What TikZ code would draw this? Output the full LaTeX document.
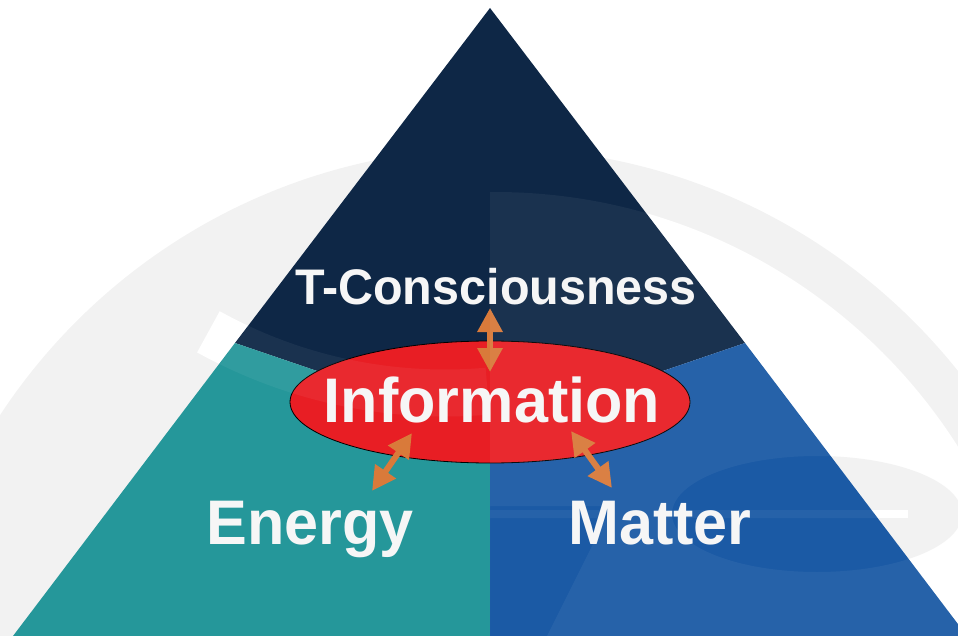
\documentclass[tikz,border=0pt]{standalone}
\usepackage{fontspec}
\setmainfont{Liberation Sans}
\newfontfamily\labfont[FakeStretch=0.97]{Liberation Sans}
\usepackage{tikz}
\usetikzlibrary{arrows.meta,shapes.geometric}
\definecolor{topnavy}{HTML}{0E2746}
\definecolor{leftteal}{HTML}{25979A}
\definecolor{rightblue}{HTML}{1B5AA5}
\definecolor{infored}{HTML}{E81E24}
\definecolor{arroworange}{HTML}{D97A3A}
\definecolor{wmgrey}{HTML}{F2F2F2}
\definecolor{labwhite}{HTML}{F6F6F6}
\tikzset{
  wm/.style={fill=wmgrey},
  tint/.style={fill=white, fill opacity=0.05},
  infobox/.style={ellipse, draw=black, line width=0.8pt, fill=infored,
    minimum width=400pt, minimum height=122pt, inner sep=0pt},
  link/.style={draw=arroworange, line width=6pt,
    >={Triangle[width=24pt,length=24pt]}, <->},
  lab/.style={text=labwhite, font=\labfont\bfseries\fontsize{63}{63}\selectfont,
    inner sep=0pt, anchor=base},
  labs/.style={lab, font=\labfont\bfseries\fontsize{50}{50}\selectfont}
}

\begin{document}
\begin{tikzpicture}[x=1pt, y=-1pt]
  \def\Rout{592}
  \def\Rin{548}
  \useasboundingbox (0,0) rectangle (958,636);
  \clip (0,0) rectangle (958,636);
  % faint logo behind
  \fill[wm] (495,740) circle (\Rout);
  \begin{scope}
    \clip (490,0) rectangle (958,636);
    \fill[white] (495,740) circle (\Rin);
  \end{scope}
  \fill[wm] (817,514) ellipse [x radius=145, y radius=58];
  \fill[white] (680,510) rectangle (908,518);
  \draw[white, line width=47pt] (445,-95) ++(119:488) arc[start angle=119, end angle=85, radius=488];

  % pyramid
  \coordinate (apex) at (490,8);
  \coordinate (bl) at (13,636);
  \coordinate (br) at (967,636);
  \coordinate (ml) at (235,343);
  \coordinate (mr) at (745,343);
  \coordinate (mid) at (490,430);
  \coordinate (mb) at (490,636);
  \fill[topnavy] (apex) -- (mr) -- (mid) -- (ml) -- cycle;
  \fill[leftteal] (ml) -- (mid) -- (mb) -- (bl) -- cycle;
  \fill[rightblue] (mid) -- (mr) -- (br) -- (mb) -- cycle;

  \node[infobox] (info) at (490,402) {};

  \coordinate (tc-a) at (490,308);
  \coordinate (tc-b) at (490,372);
  \coordinate (en-a) at (412,433);
  \coordinate (en-b) at (372,491);
  \coordinate (ma-a) at (571,431);
  \coordinate (ma-b) at (612,488);
  \draw[link] (tc-a) -- (tc-b);
  \draw[link] (en-a) -- (en-b);
  \draw[link] (ma-a) -- (ma-b);

  % logo shows through the pyramid
  \begin{scope}
    \clip (apex) -- (br) -- (bl) -- cycle;
    \begin{scope}
      \clip (495,740) circle (\Rin);
      \fill[tint, even odd rule] (490,0) rectangle (958,636)
        (817,514) ellipse [x radius=145, y radius=58]
        (680,510) rectangle (908,518)
        (490,506) -- (612,506) -- (547,636) -- (490,636) -- cycle
        (490,510) rectangle (604,518);
    \end{scope}
    \draw[white, draw opacity=0.05, line width=47pt] (445,-95) ++(119:488) arc[start angle=119, end angle=85, radius=488];
  \end{scope}

  \node[labs] (tcon) at (496,305) {T-Consciousness};
  \node[lab] (infol) at (492,422) {Information};
  \node[lab] (energy) at (310,544) {Energy};
  \node[lab] (matter) at (660,544) {Matter};
\end{tikzpicture}
\end{document}
